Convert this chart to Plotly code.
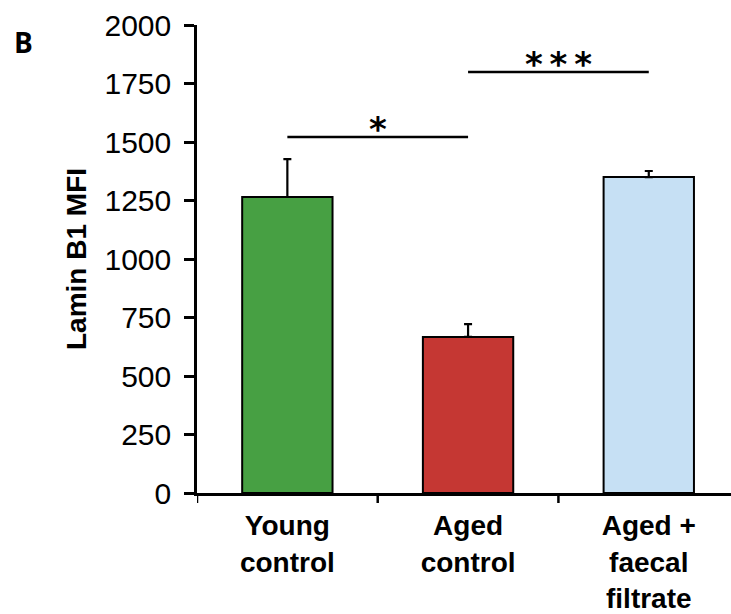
import plotly.graph_objects as go

categories = ["Young<br>control", "Aged<br>control", "Aged +<br>faecal<br>filtrate"]
means = [1265, 667, 1350]
errors = [162, 55, 26]
colors = ["#47a043", "#c53733", "#c6e0f4"]
y_ticks = [0, 250, 500, 750, 1000, 1250, 1500, 1750, 2000]

sig_pairs = [(0, 1, 1521, "*"), (1, 2, 1799, "*\u2009*\u2009*")]

FONT = "Arial, Liberation Sans, Helvetica, sans-serif"

fig = go.Figure()
fig.add_trace(go.Bar(
    x=list(range(len(categories))),
    y=means,
    width=0.5,
    marker=dict(color=colors, line=dict(color="black", width=2)),
    error_y=dict(type="data", array=errors, symmetric=False, arrayminus=[0, 0, 0],
                 color="black", thickness=2.2, width=4),
    showlegend=False,
))

for a, b, yv, txt in sig_pairs:
    fig.add_shape(type="line", xref="x", yref="y", x0=a, x1=b, y0=yv, y1=yv,
                  line=dict(color="black", width=2.5))
    fig.add_annotation(x=(a + b) / 2, y=yv, xref="x", yref="y", text=txt,
                       showarrow=False, yanchor="bottom", yshift=-14,
                       font=dict(family="DejaVu Sans", size=34, color="black", weight="bold"))

fig.add_annotation(xref="paper", yref="paper", x=-185/534, y=1 + 4/468,
                   xanchor="left", yanchor="top", text="<b>B</b>", showarrow=False,
                   font=dict(family="Open Sans", size=28, color="black"))

fig.update_layout(
    width=731, height=614,
    margin=dict(l=197, r=0, t=25, b=121),
    paper_bgcolor="white", plot_bgcolor="white",
    xaxis=dict(
        tickmode="array", tickvals=list(range(len(categories))), ticktext=[f"<b>{c}</b>" for c in categories],
        range=[-0.5, 2.455], showline=True, linecolor="black", linewidth=2.5,
        ticks="", showgrid=False, zeroline=False, ticklabelstandoff=6, automargin=False,
        tickfont=dict(family=FONT, size=28, color="black"),
    ),
    yaxis=dict(
        range=[0, 2000], tickvals=y_ticks, ticks="outside", ticklen=10, tickwidth=2.5,
        tickcolor="black", showline=True, linecolor="black", linewidth=2.5,
        showgrid=False, zeroline=False, automargin=False,
        tickfont=dict(family=FONT, size=30, color="black"),
        ticklabelstandoff=7,
        title=dict(text="<b>Lamin B1 MFI</b>", font=dict(family=FONT, size=28, color="black"),
                   standoff=10),
    ),
)

# boundary ticks on the x axis (between categories)
for xb in [-0.5, 0.5, 1.5]:
    fig.add_shape(type="line", xref="x", yref="paper", x0=xb, x1=xb, y0=0, y1=-10/468,
                  line=dict(color="black", width=2.5))

fig.write_html("out.html")
